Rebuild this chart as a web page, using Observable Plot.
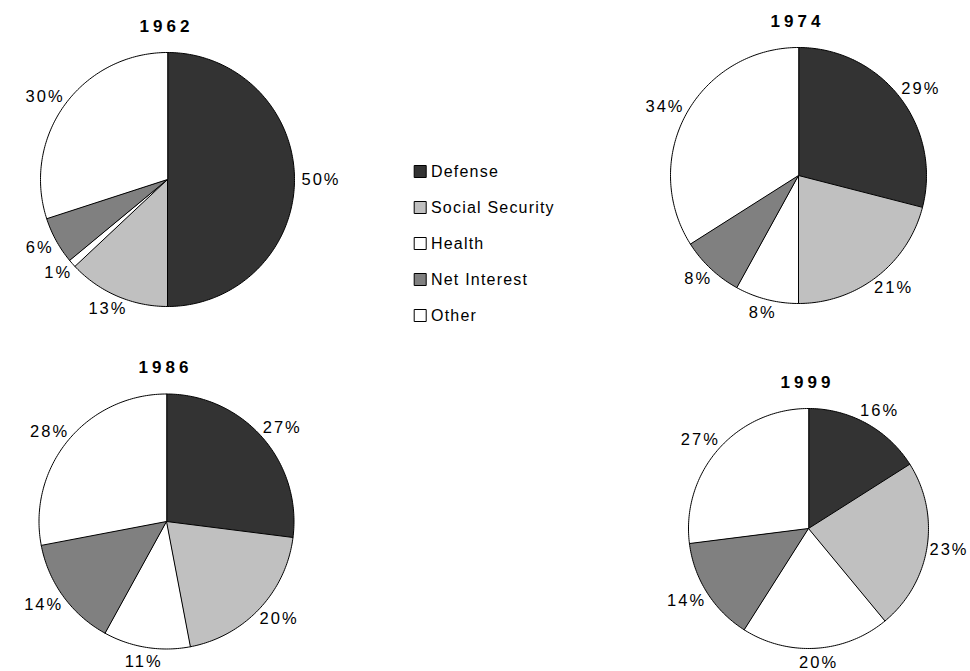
<!DOCTYPE html>
<html><head><meta charset="utf-8">
<script src="https://cdn.jsdelivr.net/npm/d3@7"></script>
<script src="https://cdn.jsdelivr.net/npm/@observablehq/plot@0.6"></script>
<style>
html,body{margin:0;padding:0;background:#fff;overflow:hidden;}
#chart{position:relative;width:970px;height:671px;}
</style></head><body><div id="chart"></div>
<script>
// ---- data ----
const categories = ["Defense", "Social Security", "Health", "Net Interest", "Other"];
const years = ["1962", "1974", "1986", "1999"];
const shares1962 = [50, 13, 1, 6, 30];
const shares1974 = [29, 21, 8, 8, 34];
const shares1986 = [27, 20, 11, 14, 28];
const shares1999 = [16, 23, 20, 14, 27];
const sharesByYear = [shares1962, shares1974, shares1986, shares1999];

// ---- styles / layout ----
const fills = ["#333333", "#c0c0c0", "#ffffff", "#808080", "#ffffff"];
const layout = [
  {cx: 167, cy: 178.5, r: 127},
  {cx: 798, cy: 175, r: 128},
  {cx: 165.5, cy: 520.5, r: 127.5},
  {cx: 808, cy: 527.5, r: 120}
];
const PAGE_W = 970;
const S = 175;
const FONT = "'Liberation Sans', Arial, Helvetica, sans-serif";
const LABEL_SIZE = 16.5, LABEL_LS = 2, GAP = 7;
const TITLE_SIZE = 17, TITLE_LS = 4;

const ctx = document.createElement("canvas").getContext("2d");
ctx.font = `${LABEL_SIZE}px ${FONT}`;
const textWidth = s => ctx.measureText(s).width + LABEL_LS * (s.length - 1);

const color = {type: "ordinal", domain: categories, range: fills};
const chart = document.getElementById("chart");

years.forEach((year, i) => {
  const {cx, cy, r} = layout[i];
  const k = S / r;
  const arcs = d3.pie().sort(null).value(d => d)(sharesByYear[i]);
  const pts = [];
  const labels = [];
  arcs.forEach((a, j) => {
    const cat = categories[j];
    pts.push({cat, x: 0, y: 0});
    const n = Math.max(2, Math.ceil((a.endAngle - a.startAngle) / (Math.PI / 180)));
    for (let s = 0; s <= n; s++) {
      const t = a.startAngle + (a.endAngle - a.startAngle) * s / n;
      pts.push({cat, x: Math.sin(t), y: Math.cos(t)});
    }
    const m = (a.startAngle + a.endAngle) / 2;
    const ux = Math.sin(m), uy = Math.cos(m);
    const text = a.data + "%";
    const w = textWidth(text) / 2, h = 7;
    let px = ux * (r + GAP + w);
    px = Math.min(px, PAGE_W - 4 - cx - w);   // keep label inside the page
    const py = uy * (r + GAP + h);
    labels.push({text, x: px / r, y: py / r});
  });

  const svg = Plot.plot({
    width: 2 * S, height: 2 * S, margin: 0,
    x: {domain: [-k, k], axis: null},
    y: {domain: [-k, k], axis: null},
    color,
    style: {fontFamily: FONT, fontSize: LABEL_SIZE + "px", letterSpacing: LABEL_LS + "px",
            background: "transparent", overflow: "visible", color: "#000"},
    marks: [
      Plot.line(pts, {x: "x", y: "y", z: "cat", fill: "cat", stroke: "#000", strokeWidth: 1,
                      curve: "linear-closed", strokeLinejoin: "round"}),
      Plot.text(labels, {x: "x", y: "y", text: "text", fill: "#000", fontSize: LABEL_SIZE,
                         textAnchor: "middle", lineAnchor: "middle", dx: LABEL_LS / 2}),
      Plot.text([year], {x: () => 0, y: () => (r + 26) / r, text: d => d, fill: "#000",
                         fontSize: TITLE_SIZE, fontWeight: "bold", textAnchor: "middle",
                         lineAnchor: "middle", dx: TITLE_LS / 2 - 3})
    ]
  });
  d3.select(svg).selectAll("text")
    .filter(function() { return this.textContent === year; })
    .style("letter-spacing", TITLE_LS + "px");
  svg.style.position = "absolute";
  svg.style.left = (cx - S) + "px";
  svg.style.top = (cy - S) + "px";
  svg.style.maxWidth = "none";
  chart.appendChild(svg);
});

// ---- legend ----
const legend = Plot.plot({
  width: 170, height: 185, margin: 0, marginTop: 21, marginBottom: 20,
  y: {type: "point", domain: categories, padding: 0, axis: null},
  color,
  style: {fontFamily: FONT, fontSize: "16px", letterSpacing: "1.2px", background: "transparent",
          overflow: "visible", color: "#000"},
  marks: [
    Plot.dot(categories, {y: d => d, frameAnchor: "left", dx: 14.7, symbol: "square", r: 6.77,
                          fill: d => d, stroke: "#000", strokeWidth: 1}),
    Plot.text(categories, {y: d => d, frameAnchor: "left", dx: 25.5, text: d => d,
                           textAnchor: "start", lineAnchor: "middle", fill: "#000", fontSize: 16})
  ]
});
legend.style.position = "absolute";
legend.style.left = "405px";
legend.style.top = "150px";
chart.appendChild(legend);
</script>
</body></html>
